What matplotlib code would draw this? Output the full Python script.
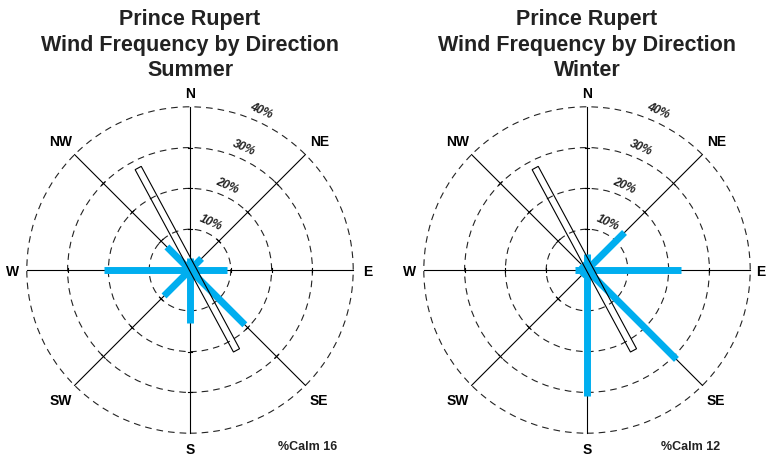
import numpy as np
import matplotlib
matplotlib.use("Agg")
from matplotlib import pyplot as plt
from matplotlib.patches import Circle, Polygon

plt.rcParams['font.family'] = ['Liberation Sans', 'DejaVu Sans']

# Wind frequency (%) by direction, Prince Rupert
directions = ["N", "NE", "E", "SE", "S", "SW", "W", "NW"]
summer_pct = [3, 4, 9, 19, 13, 9, 21, 8]
winter_pct = [4, 13, 23, 31, 31, 2, 3, 2]
seasons = ["Summer", "Winter"]
calm_pct = [16, 12]
rings = [10, 20, 30, 40]

BLUE = "#00AEEF"
PX_PER_PCT = 4.08   # screen scale: pixels for 1 %
HALF = 45           # half span of each rose axes in %
W, H = 767, 457

fig = plt.figure(figsize=(W / 100, H / 100), dpi=100)


def rose(cx, season, values, calm, calm_x, east_r=43.6):
    side = 2 * HALF * PX_PER_PCT
    ax = fig.add_axes([(cx - side / 2) / W, (H - 270 - side / 2) / H, side / W, side / H])
    ax.set_xlim(-HALF, HALF)
    ax.set_ylim(-HALF, HALF)
    ax.set_aspect('equal')
    ax.axis('off')

    # dashed rings
    for r in rings:
        ax.add_patch(Circle((0, 0), r, fill=False, ec="#222222", lw=0.8,
                            ls=(0, (6, 4.5)), zorder=1))

    # spokes with little ticks where they cross the rings
    for i, d in enumerate(directions):
        ang = np.deg2rad(90 - 45 * i)
        ux, uy = np.cos(ang), np.sin(ang)
        ax.plot([0, 40 * ux], [0, 40 * uy], color="black", lw=0.8, zorder=2)
        for r in rings[:-1]:
            px, py = r * ux, r * uy
            ax.plot([px - 0.6 * uy, px + 0.6 * uy], [py + 0.6 * ux, py - 0.6 * ux],
                    color="black", lw=0.8, zorder=2)
        rl = 43.6 if i % 2 == 0 else 44.8
        if d == "E":
            rl = east_r
        ax.text(rl * ux, rl * uy - 0.4, d, ha='center', va='center',
                fontsize=10, fontweight='bold', clip_on=False)

    # frequency bars
    for i, v in enumerate(values):
        ang = np.deg2rad(90 - 45 * i)
        ax.plot([0, v * np.cos(ang)], [0, v * np.sin(ang)], color=BLUE, lw=5.0,
                solid_capstyle='butt', zorder=3)

    # runway outline
    n_end = np.array([-12.7, 25.0])
    s_end = np.array([11.4, -19.7])
    u = (n_end - s_end) / np.linalg.norm(n_end - s_end)
    p = np.array([u[1], -u[0]]) * 0.85
    ax.add_patch(Polygon([n_end - p, n_end + p, s_end + p, s_end - p], closed=True,
                         fill=False, ec="black", lw=0.8, zorder=4))

    # ring labels
    b = np.deg2rad(90 - 24)
    for r in rings:
        rr = r + 2.6
        ax.text(rr * np.cos(b), rr * np.sin(b), f"{r}%", rotation=-24, ha='center',
                va='center', fontsize=8.5, fontweight='bold', fontstyle='italic',
                color="#222222")

    ax.text(calm_x, -43.4, f"%Calm {calm}", ha='center', va='center',
            fontsize=9, fontweight='bold', color="#222222", clip_on=False)

    for y, line in zip([61.3, 55.1, 49.0],
                       ["Prince Rupert", "Wind Frequency by Direction", season]):
        ax.text(0, y, line, ha='center', va='center', fontsize=15.5,
                fontweight='bold', color="#222222", clip_on=False)


rose(190, seasons[0], summer_pct, calm_pct[0], 28.9)
rose(587, seasons[1], winter_pct, calm_pct[1], 25.5, east_r=42.6)

fig.savefig("out.png", dpi=100)
